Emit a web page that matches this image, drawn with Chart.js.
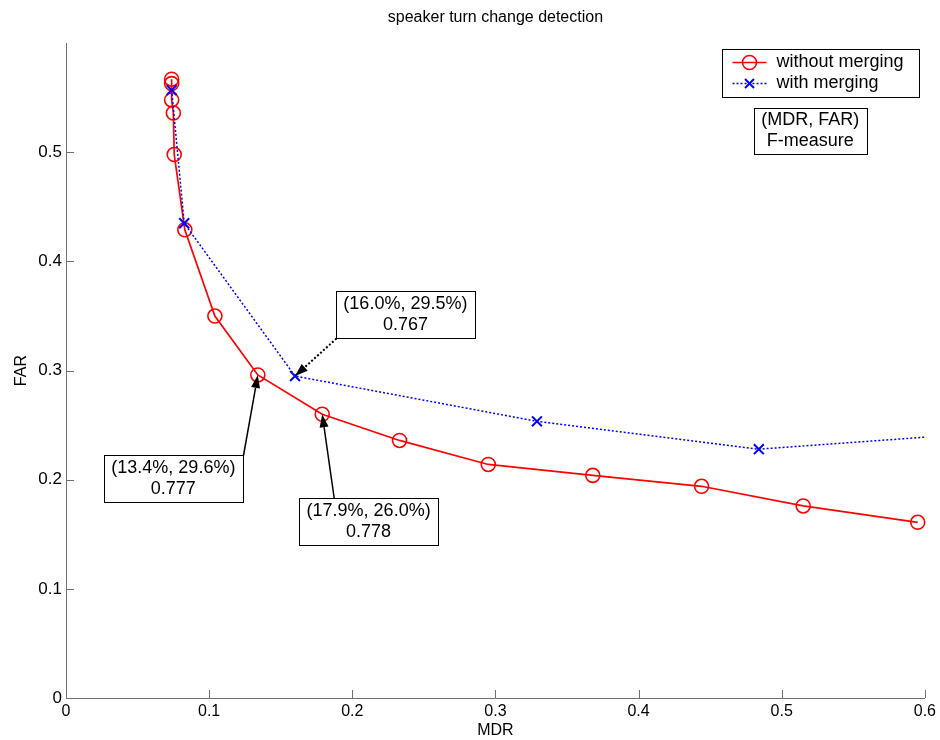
<!DOCTYPE html>
<html>
<head>
<meta charset="utf-8">
<script src="https://cdn.jsdelivr.net/npm/chart.js@4/dist/chart.umd.min.js"></script>
<style>
  html, body { margin: 0; padding: 0; background: #fff; }
  #wrap { width: 940px; height: 740px; }
</style>
</head>
<body>
<div id="wrap"><canvas id="chart" width="940" height="740"></canvas></div>
<script>
// ===== speaker turn change detection : FAR vs MDR =====

const noMergeMDR = [0.0738, 0.0738, 0.0738, 0.0750, 0.0756, 0.083, 0.104, 0.134, 0.179, 0.233, 0.295, 0.368, 0.444, 0.515, 0.595];
const noMergeFAR = [0.567, 0.563, 0.548, 0.536, 0.498, 0.429, 0.350, 0.296, 0.260, 0.236, 0.214, 0.204, 0.194, 0.176, 0.161];
const mergeMDR = [0.0738, 0.0826, 0.160, 0.329, 0.484, 0.600];
const mergeFAR = [0.557, 0.435, 0.295, 0.2535, 0.228, 0.239];
const xTicks = [0, 0.1, 0.2, 0.3, 0.4, 0.5, 0.6];
const yTicks = [0, 0.1, 0.2, 0.3, 0.4, 0.5];
const seriesNames = ['without merging', 'with merging'];

// callouts: which series / point they point at, and their text
const calloutSeries = [0, 1, 0];
const calloutIndex = [7, 2, 8];
const calloutText = [['(13.4%, 29.6%)', '0.777'], ['(16.0%, 29.5%)', '0.767'], ['(17.9%, 26.0%)', '0.778']];
const infoText = ['(MDR, FAR)', 'F-measure'];

// layout of the callout boxes (box centre in axis units, arrow tail as fraction of box)
const calloutPos = [[0.0750, 0.2015], [0.2371, 0.3516], [0.2114, 0.1621]];
const calloutTail = [[1, 0], [0, 1], [0.25, 0]];
const calloutDotted = [false, true, false];
const infoPos = [0.520, 0.520];

const FONT = "'Liberation Sans', Arial, Helvetica, sans-serif";
Chart.defaults.font.family = FONT;
Chart.defaults.color = '#000';

const AXIS = '#707070';
const RED = '#ff0000';
const BLUE = '#0000ff';

function pts(xs, ys) { return xs.map((v, i) => ({ x: v, y: ys[i] })); }

function arrow(ctx, x0, y0, x1, y1, dotted) {
  const ang = Math.atan2(y1 - y0, x1 - x0);
  const len = 13, half = 4.5;
  const bx = x1 - Math.cos(ang) * len, by = y1 - Math.sin(ang) * len;
  ctx.strokeStyle = '#000'; ctx.fillStyle = '#000';
  ctx.lineWidth = dotted ? 2 : 1.5;
  ctx.setLineDash(dotted ? [2, 2] : []);
  ctx.beginPath(); ctx.moveTo(x0, y0); ctx.lineTo(bx, by); ctx.stroke();
  ctx.setLineDash([]);
  ctx.beginPath();
  ctx.moveTo(x1, y1);
  ctx.lineTo(bx + Math.sin(ang) * half, by - Math.cos(ang) * half);
  ctx.lineTo(bx - Math.sin(ang) * half, by + Math.cos(ang) * half);
  ctx.closePath(); ctx.fill();
}

function textBox(ctx, cx, cy, w, h, lines) {
  const l = Math.round(cx - w / 2) + 0.5, t = Math.round(cy - h / 2) + 0.5;
  ctx.fillStyle = '#fff';
  ctx.fillRect(l, t, w, h);
  ctx.strokeStyle = '#000'; ctx.lineWidth = 1;
  ctx.strokeRect(l, t, w, h);
  ctx.fillStyle = '#000';
  ctx.font = '18px ' + FONT;
  ctx.textAlign = 'center'; ctx.textBaseline = 'middle';
  ctx.fillText(lines[0], cx, cy - 10);
  ctx.fillText(lines[1], cx, cy + 11);
  return { l, t };
}

const decor = {
  id: 'decor',
  afterDatasetsDraw(chart) {
    const { ctx, chartArea: a, scales: { x, y } } = chart;
    ctx.save();

    // tick marks pointing into the plot
    ctx.strokeStyle = AXIS; ctx.lineWidth = 1;
    ctx.beginPath();
    xTicks.forEach(v => {
      const px = Math.round(x.getPixelForValue(v)) + 0.5;
      ctx.moveTo(px, a.bottom); ctx.lineTo(px, a.bottom - 8);
    });
    yTicks.forEach(v => {
      const py = Math.round(y.getPixelForValue(v)) + 0.5;
      ctx.moveTo(a.left, py); ctx.lineTo(a.left + 8, py);
    });
    ctx.stroke();

    // callouts with arrows
    calloutText.forEach((lines, i) => {
      const w = 139, h = 47;
      const cx = x.getPixelForValue(calloutPos[i][0]);
      const cy = y.getPixelForValue(calloutPos[i][1]);
      const el = chart.getDatasetMeta(calloutSeries[i]).data[calloutIndex[i]];
      const b = textBox(ctx, cx, cy, w, h, lines);
      arrow(ctx, b.l + calloutTail[i][0] * w, b.t + calloutTail[i][1] * h, el.x, el.y, calloutDotted[i]);
    });

    // info box
    textBox(ctx, x.getPixelForValue(infoPos[0]), y.getPixelForValue(infoPos[1]), 113, 46, infoText);

    // legend
    const lw = 197, lh = 48;
    const ll = Math.round(a.right - 6 - lw) + 0.5, lt = Math.round(a.top + 6) + 0.5;
    ctx.fillStyle = '#fff'; ctx.fillRect(ll, lt, lw, lh);
    ctx.strokeStyle = '#000'; ctx.lineWidth = 1; ctx.strokeRect(ll, lt, lw, lh);
    chart.data.datasets.forEach((ds, i) => {
      const ry = lt + 13 + i * 21;
      ctx.strokeStyle = ds.borderColor; ctx.lineWidth = ds.borderWidth;
      ctx.setLineDash(ds.borderDash || []);
      ctx.beginPath(); ctx.moveTo(ll + 10, ry); ctx.lineTo(ll + 44, ry); ctx.stroke();
      ctx.setLineDash([]);
      const mx = ll + 27;
      ctx.lineWidth = ds.pointBorderWidth;
      ctx.beginPath();
      if (ds.pointStyle === 'circle') {
        ctx.arc(mx, ry, 7, 0, Math.PI * 2);
      } else {
        ctx.moveTo(mx - 4.5, ry - 4.5); ctx.lineTo(mx + 4.5, ry + 4.5);
        ctx.moveTo(mx + 4.5, ry - 4.5); ctx.lineTo(mx - 4.5, ry + 4.5);
      }
      ctx.stroke();
      ctx.fillStyle = '#000';
      ctx.font = '18px ' + FONT;
      ctx.textAlign = 'left'; ctx.textBaseline = 'middle';
      ctx.fillText(ds.label, ll + 54, ry);
    });

    ctx.restore();
  }
};

new Chart(document.getElementById('chart'), {
  type: 'line',
  data: {
    datasets: [
      {
        label: seriesNames[0], data: pts(noMergeMDR, noMergeFAR),
        borderColor: RED, borderWidth: 1.7, backgroundColor: 'transparent',
        pointStyle: 'circle', pointRadius: 7, pointBorderWidth: 1.6,
        pointBorderColor: RED, pointBackgroundColor: 'transparent',
        tension: 0, clip: false, order: 2
      },
      {
        label: seriesNames[1], data: pts(mergeMDR, mergeFAR),
        borderColor: BLUE, borderWidth: 1.5, borderDash: [2, 2], backgroundColor: 'transparent',
        pointStyle: 'crossRot', pointRadius: mergeMDR.map((v, i) => i === mergeMDR.length - 1 ? 0 : 7),
        pointBorderWidth: 2, pointBorderColor: BLUE, pointBackgroundColor: BLUE,
        tension: 0, clip: false, order: 1
      }
    ]
  },
  options: {
    responsive: false, animation: false, devicePixelRatio: 1,
    layout: { padding: { left: 0, right: 15, top: 0, bottom: 0 } },
    plugins: {
      legend: { display: false },
      tooltip: { enabled: false },
      title: {
        display: true, fullSize: false, text: 'speaker turn change detection',
        font: { size: 16, weight: 'normal' }, color: '#000',
        padding: { top: 8, bottom: 16 }
      }
    },
    scales: {
      x: {
        type: 'linear', min: 0, max: 0.6,
        afterBuildTicks: s => { s.ticks = xTicks.map(v => ({ value: v })); },
        afterFit: s => { s.height = 42; },
        grid: { display: false, drawTicks: false },
        border: { display: true, color: AXIS, width: 1 },
        ticks: { font: { size: 16 }, color: '#000', padding: 4, maxRotation: 0, callback: v => String(v) },
        title: { display: true, text: 'MDR', font: { size: 16 }, color: '#000', padding: { top: 0, bottom: 0 } }
      },
      y: {
        type: 'linear', min: 0, max: 0.6,
        afterBuildTicks: s => { s.ticks = yTicks.map(v => ({ value: v })); },
        afterFit: s => { s.width = 66; },
        grid: { display: false, drawTicks: false },
        border: { display: true, color: AXIS, width: 1 },
        ticks: { font: { size: 17 }, color: '#000', padding: 4, callback: v => String(v) },
        title: { display: true, text: 'FAR', font: { size: 16 }, color: '#000', padding: { top: 12, bottom: 0 } }
      }
    }
  },
  plugins: [decor]
});
</script>
</body>
</html>
